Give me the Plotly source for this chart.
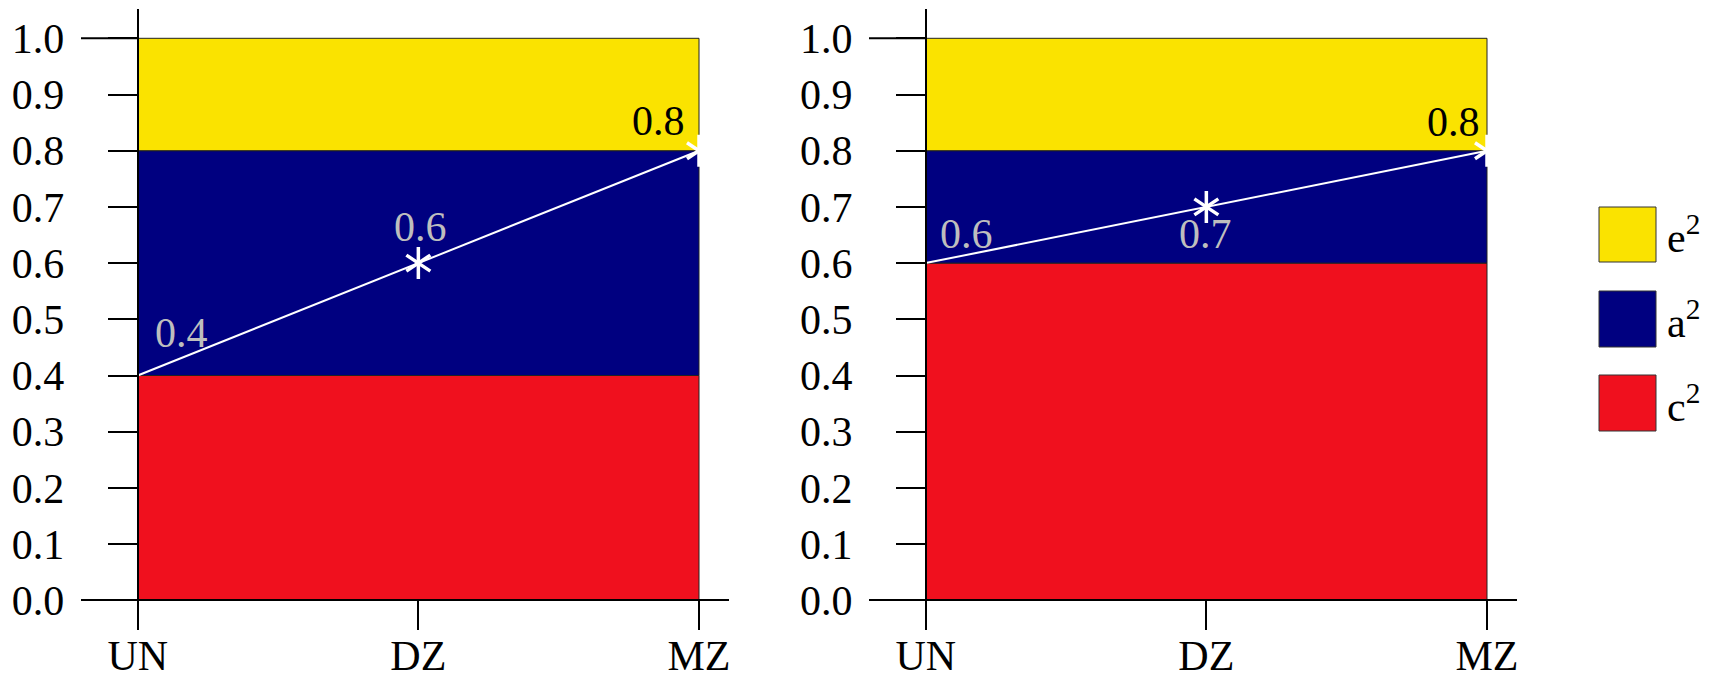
import plotly.graph_objects as go

W, H = 1715, 676

# ---------------- data ----------------
categories = ["UN", "DZ", "MZ"]
y_tick_vals = [0.0, 0.1, 0.2, 0.3, 0.4, 0.5, 0.6, 0.7, 0.8, 0.9, 1.0]
y_tick_text = ["0.0", "0.1", "0.2", "0.3", "0.4", "0.5", "0.6", "0.7", "0.8", "0.9", "1.0"]

series_names = ["c<sup>2</sup>", "a<sup>2</sup>", "e<sup>2</sup>"]
series_colors = ["#F0101E", "#000080", "#FAE300"]

# left panel
c2_left = [0.4, 0.4, 0.4]
a2_left = [0.4, 0.4, 0.4]
e2_left = [0.2, 0.2, 0.2]
line_left = [0.4, 0.6, 0.8]

# right panel
c2_right = [0.6, 0.6, 0.6]
a2_right = [0.2, 0.2, 0.2]
e2_right = [0.2, 0.2, 0.2]
line_right = [0.6, 0.7, 0.8]

FONT = "Liberation Serif, Times New Roman, serif"
FS = 42


def px_x(p):
    return p / W


def px_y(p):
    return 1 - p / H


fig = go.Figure()

panels = [
    dict(xa="x", ya="y", layers=[c2_left, a2_left, e2_left], line=line_left,
         xdom=(81, 729), yaxis_px=137.7,
         label_shifts=[(44, 43, "#BEBEBE"), (2, 36, "#BEBEBE"), (-41, 30, "#000000")]),
    dict(xa="x2", ya="y2", layers=[c2_right, a2_right, e2_right], line=line_right,
         xdom=(869, 1517), yaxis_px=926,
         label_shifts=[(41, 29, "#BEBEBE"), (-1, -27, "#BEBEBE"), (-34, 29, "#000000")]),
]

annotations = []
shapes = []

for p in panels:
    base = [0.0] * len(categories)
    for vals, name, col in zip(p["layers"], series_names, series_colors):
        top = [b + v for b, v in zip(base, vals)]
        fig.add_trace(go.Scatter(
            x=categories + categories[::-1],
            y=top + base[::-1],
            fill="toself", fillcolor=col, mode="lines",
            line=dict(color="#222222", width=1),
            name=name, showlegend=False, hoverinfo="skip",
            xaxis=p["xa"], yaxis=p["ya"],
        ))
        base = top
    # white line
    fig.add_trace(go.Scatter(
        x=categories, y=p["line"], mode="lines",
        line=dict(color="white", width=2),
        showlegend=False, xaxis=p["xa"], yaxis=p["ya"],
    ))
    # asterisk markers (DZ, MZ)
    for sym in ["y-up-open", "y-down-open"]:
        fig.add_trace(go.Scatter(
            x=categories[1:], y=p["line"][1:], mode="markers",
            marker=dict(symbol=sym, size=20, color="white",
                        line=dict(color="white", width=3.5)),
            showlegend=False, xaxis=p["xa"], yaxis=p["ya"], cliponaxis=False,
        ))
    # value labels
    xref = p["xa"]
    yref = p["ya"]
    for cat, v, (dx, dy, col) in zip(categories, p["line"], p["label_shifts"]):
        annotations.append(dict(
            x=cat, y=v, xref=xref, yref=yref, text=f"{v:.1f}", showarrow=False,
            xshift=dx, yshift=dy, font=dict(family=FONT, size=FS, color=col),
        ))
    # longer tick at 1.0
    shapes.append(dict(type="line", xref="paper", yref=yref,
                       x0=px_x(p["xdom"][0]), x1=px_x(p["yaxis_px"]), y0=1.0, y1=1.0,
                       line=dict(color="black", width=2)))

ydom = [px_y(629), px_y(9.3)]
yrange = [-28.7 / 562, 1 + 29 / 562]
xrange = [-(137.7 - 81) / 280.6, 2 + (729 - 699) / 280.6]
xaxis_pos = px_y(600.3)

common_x = dict(range=xrange, showgrid=False, zeroline=False, showline=True,
                linecolor="black", linewidth=2, ticks="outside", ticklen=29,
                tickwidth=2, tickcolor="black", anchor="free", position=xaxis_pos,
                tickfont=dict(family=FONT, size=FS, color="black"),
                type="category", categoryorder="array", categoryarray=categories,
                ticklabelstandoff=-11, fixedrange=True, automargin=False)
common_y = dict(range=yrange, domain=ydom, showgrid=False, zeroline=False,
                showline=True, linecolor="black", linewidth=2, ticks="outside",
                ticklen=29, tickwidth=2, tickcolor="black", anchor="free",
                tickvals=y_tick_vals, ticktext=y_tick_text,
                tickfont=dict(family=FONT, size=FS, color="black"),
                ticklabelstandoff=35, fixedrange=True, automargin=False)

fig.update_layout(
    template="none",
    width=W, height=H,
    margin=dict(l=0, r=0, t=0, b=0, autoexpand=False),
    paper_bgcolor="white", plot_bgcolor="rgba(0,0,0,0)",
    font=dict(family=FONT, size=FS, color="black"),
    xaxis=dict(common_x, domain=[px_x(81), px_x(729)]),
    yaxis=dict(common_y, position=px_x(137.7)),
    xaxis2=dict(common_x, domain=[px_x(869), px_x(1517)]),
    yaxis2=dict(common_y, position=px_x(926)),
    showlegend=False,
)

# manual legend (top to bottom: e2, a2, c2)
legend_boxes = [(207, 262), (291, 347), (375, 431)]
for (y0, y1), name, col in zip(legend_boxes, series_names[::-1], series_colors[::-1]):
    shapes.append(dict(type="rect", xref="paper", yref="paper",
                       x0=px_x(1599), x1=px_x(1656), y0=px_y(y1), y1=px_y(y0),
                       fillcolor=col, line=dict(color="#333333", width=1)))
    annotations.append(dict(x=px_x(1665), y=px_y((y0 + y1) / 2), xref="paper", yref="paper",
                            text=name, showarrow=False, xanchor="left", yanchor="middle",
                            font=dict(family=FONT, size=FS, color="black")))

fig.update_layout(shapes=shapes, annotations=annotations)
fig.write_html(
    "out.html",
    config={"displayModeBar": False},
    post_script="document.body.style.margin='0';document.body.style.overflow='hidden';",
)
